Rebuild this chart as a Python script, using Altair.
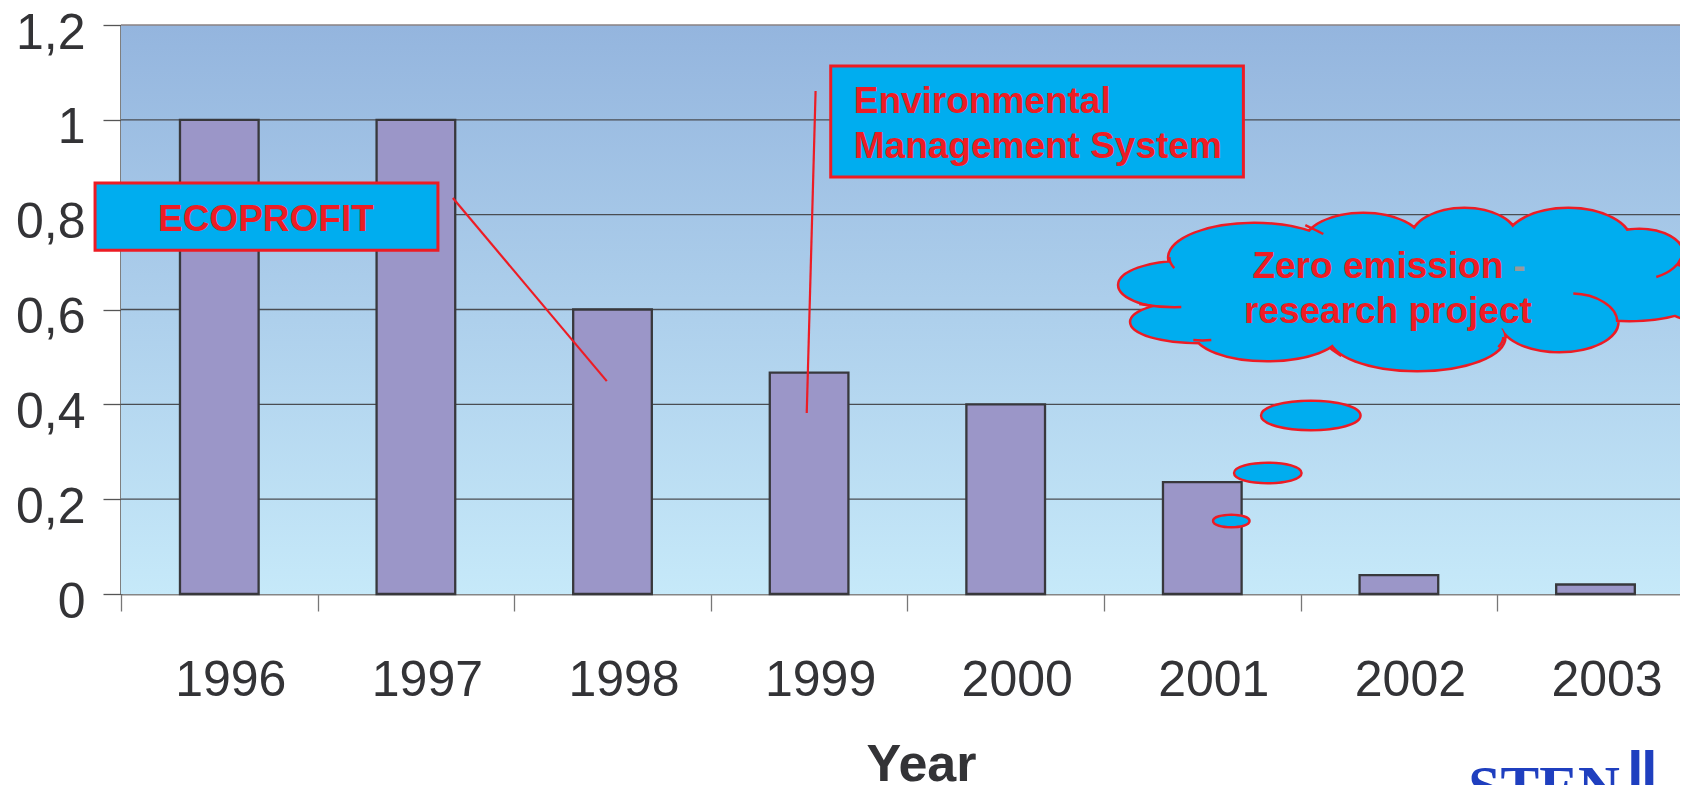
import altair as alt
import pandas as pd

# ---------------- data ----------------
years = [1996, 1997, 1998, 1999, 2000, 2001, 2002, 2003]
values = [1.0, 1.0, 0.6, 0.467, 0.4, 0.236, 0.04, 0.02]
y_tick_values = [0, 0.2, 0.4, 0.6, 0.8, 1.0, 1.2]
x_title = "Year"

eco_label = ["ECOPROFIT"]
ems_labels = ["Environmental", "Management System"]
cloud_labels = ["Zero emission", "research project"]
cloud_dash = ["-"]
logo_label = ["STEN"]

# ---------------- layout / style constants ----------------
PLOT_W, PLOT_H = 1559, 569
X_STEP = 196.6
XMIN = years[0] - 0.5
XMAX = XMIN + PLOT_W / X_STEP
YMAX = 1.2
BAR_HALF = 0.2

RED = "#ED1C24"
CYAN = "#00ADEF"
TXT = "#333336"
FONT = "Liberation Sans"

xs = alt.Scale(domain=[XMIN, XMAX], nice=False, zero=False)
ys = alt.Scale(domain=[0, YMAX], nice=False, zero=False)

# annotation anchors (data coordinates)
eco_box = dict(x=1995.368, x2=1997.112, y=0.867, y2=0.725)
eco_text_pos = dict(x=1996.237, y=0.7655)
eco_line = dict(x=1997.188, y=0.835, x2=1997.971, y2=0.449)
ems_box = dict(x=1999.110, x2=2001.209, y=1.1135, y2=0.8794)
ems_text_x = 1999.227
ems_text_y = [1.0143, 0.9194]
ems_line = dict(x=1999.033, y=1.0607, x2=1998.988, y2=0.3817)
cloud_center = dict(x=2002.002, y=0.6411)
cloud_text_x = [2001.893, 2001.944]
cloud_text_y = [0.6664, 0.5715]
dash_pos = dict(x=2002.582, y=0.6664)
logo_pos = dict(x=2002.353, y=-0.447)
logo_bars = [dict(x=2003.182, x2=2003.223, y=-0.329, y2=-0.5),
             dict(x=2003.253, x2=2003.294, y=-0.329, y2=-0.5)]

# cloud geometry in pixels relative to the cloud anchor: (dx, dy, rx, ry)
cloud_bumps = [(-215, -5, 65, 23), (-200, 32, 68, 20), (-145, -32, 85, 34),
               (-36, -47, 58, 29), (65, -52, 52, 29), (169, -48, 62, 33),
               (240, -36, 43, 24), (322, 5, 65, 28), (160, 32, 58, 29),
               (18, 47, 87, 33), (-132, 43, 72, 27),
               (0, 0, 200, 45), (230, 0, 80, 30)]
bubbles = [(-88.5, 125.5, 48.5, 13.5), (-131.5, 183, 32.5, 9), (-168, 231, 17, 5)]
inner_arcs = [
    [(174, 3.5), (196, 4), (218, 16), (218, 32)],
    [(257, -13), (270, -17), (281, -25), (283, -36)],
    [(-260, 14), (-246, 16.5), (-232, 17.5), (-218, 17)],
    [(-230, -33), (-230, -28), (-228, -25), (-225, -22)],
    [(-94, -65), (-88, -62), (-81, -59), (-76, -56)],
    [(-206, 50), (-200, 50.5), (-194, 50.5), (-188, 50)],
    [(-69, 58), (-66, 61), (-62, 63), (-58, 66)],
    [(104, 47), (104, 50), (102, 54), (99, 57)],
]
UNIT = 100.0          # path unit in pixels -> symbol size = (2*UNIT)^2
SYM_SIZE = (2 * UNIT) ** 2
KAPPA = 0.5523


def f(v):
    return f"{v / UNIT:.4f}"


def ellipse_path(cx, cy, rx, ry):
    k = KAPPA
    p = [f"M{f(cx + rx)},{f(cy)}",
         f"C{f(cx + rx)},{f(cy + k * ry)} {f(cx + k * rx)},{f(cy + ry)} {f(cx)},{f(cy + ry)}",
         f"C{f(cx - k * rx)},{f(cy + ry)} {f(cx - rx)},{f(cy + k * ry)} {f(cx - rx)},{f(cy)}",
         f"C{f(cx - rx)},{f(cy - k * ry)} {f(cx - k * rx)},{f(cy - ry)} {f(cx)},{f(cy - ry)}",
         f"C{f(cx + k * rx)},{f(cy - ry)} {f(cx + rx)},{f(cy - k * ry)} {f(cx + rx)},{f(cy)}Z"]
    return "".join(p)


cloud_path = "".join(ellipse_path(*e) for e in cloud_bumps + bubbles)
arcs_path = "".join(
    f"M{f(a[0][0])},{f(a[0][1])}C{f(a[1][0])},{f(a[1][1])} {f(a[2][0])},{f(a[2][1])} {f(a[3][0])},{f(a[3][1])}"
    for a in inner_arcs)

# ---------------- axes (shared by every layer) ----------------
x_axis = alt.Axis(
    values=[y - 0.5 for y in years],
    labelExpr="format(datum.value + 0.5, 'd')",
    labelOffset=X_STEP / 2 + 11, labelFlush=False, labelOverlap=False,
    tickSize=17, tickColor="#777777", tickWidth=1.3,
    domainColor="#858585", domainWidth=2,
    labelFontSize=50, labelFont=FONT, labelColor=TXT,
    labelPadding=84, labelBaseline="alphabetic",
    grid=False, title=x_title, titleFontSize=52, titleFontWeight="bold",
    titleFont=FONT, titleColor=TXT, titleX=800, titleY=186,
    titleBaseline="alphabetic", titleAlign="center",
)
y_axis = alt.Axis(
    values=y_tick_values,
    labelExpr="replace(format(datum.value, '~g'), '.', ',')",
    tickSize=18, tickColor="#555555", tickWidth=1.3,
    domainColor="#555555", domainWidth=2.5,
    labelFontSize=50, labelFont=FONT, labelColor=TXT,
    labelPadding=18, labelBaseline="alphabetic", labelOffset=23,
    labelOverlap=False, grid=False, title=None,
)


def X(field):
    return alt.X(field, scale=xs, axis=x_axis)


def Y(field):
    return alt.Y(field, scale=ys, axis=y_axis)


# ---------------- layers ----------------
bg_df = pd.DataFrame({"x": [XMIN], "x2": [XMAX], "y": [0.0], "y2": [YMAX]})
bg = alt.Chart(bg_df).mark_rect(
    fill=alt.LinearGradient(
        gradient="linear", x1=0, x2=0, y1=0, y2=1,
        stops=[alt.GradientStop(color="#94B5DE", offset=0),
               alt.GradientStop(color="#C6E9F9", offset=1)]),
    strokeWidth=0,
).encode(x=X("x:Q"), x2="x2:Q", y=Y("y:Q"), y2="y2:Q")

grid_df = pd.DataFrame({"y": [v for v in y_tick_values if 0 < v < YMAX]})
grid = alt.Chart(grid_df).mark_rule(color="#4A4D52", strokeWidth=1.3).encode(y=Y("y:Q"))
top_df = pd.DataFrame({"y": [YMAX]})
top_line = alt.Chart(top_df).mark_rule(color="#8A8282", strokeWidth=1.6).encode(y=Y("y:Q"))

bars_df = pd.DataFrame({"year": years, "value": values})
bars = alt.Chart(bars_df).transform_calculate(
    x=f"datum.year - {BAR_HALF}", x2=f"datum.year + {BAR_HALF}", y2="0"
).mark_rect(fill="#9B96C8", stroke="#38383C", strokeWidth=2.3).encode(
    x=X("x:Q"), x2="x2:Q", y=Y("value:Q"), y2="y2:Q",
)


def one_row(d):
    return pd.DataFrame({k: [v] for k, v in d.items()})


def seg(d):
    return alt.Chart(one_row(d)).mark_rule(color=RED, strokeWidth=2.2).encode(
        x=X("x:Q"), x2="x2:Q", y=Y("y:Q"), y2="y2:Q")


def box(d):
    return alt.Chart(one_row(d)).mark_rect(fill=CYAN, stroke=RED, strokeWidth=3).encode(
        x=X("x:Q"), x2="x2:Q", y=Y("y:Q"), y2="y2:Q")


def texts(xv, yv, labels, align, size, color=RED, font=FONT, weight="bold"):
    df = pd.DataFrame({"x": xv, "y": yv, "t": labels})
    return alt.Chart(df).mark_text(
        font=font, fontWeight=weight, fontSize=size, color=color,
        align=align, baseline="alphabetic").encode(
        x=X("x:Q"), y=Y("y:Q"), text="t:N")


cloud_df = one_row(cloud_center)
cloud_outline = alt.Chart(cloud_df).mark_point(
    shape=cloud_path, size=SYM_SIZE, filled=True, fill=RED, stroke=RED,
    strokeWidth=5, opacity=1).encode(x=X("x:Q"), y=Y("y:Q"))
cloud_fill = alt.Chart(cloud_df).mark_point(
    shape=cloud_path, size=SYM_SIZE, filled=True, fill=CYAN,
    strokeWidth=0, opacity=1).encode(x=X("x:Q"), y=Y("y:Q"))
cloud_arcs = alt.Chart(cloud_df).mark_point(
    shape=arcs_path, size=SYM_SIZE, filled=False, stroke=RED,
    strokeWidth=2.5, opacity=1).encode(x=X("x:Q"), y=Y("y:Q"))

logo_text = texts([logo_pos["x"]], [logo_pos["y"]], logo_label, "left", 58,
                  color="#1F3FBF", font="Liberation Serif")
logo_bar_layers = [
    alt.Chart(one_row(b)).mark_rect(fill="#1F3FBF").encode(
        x=X("x:Q"), x2="x2:Q", y=Y("y:Q"), y2="y2:Q")
    for b in logo_bars]

chart = alt.layer(
    bg, grid, top_line, bars,
    seg(eco_line), seg(ems_line),
    box(eco_box), box(ems_box),
    texts([eco_text_pos["x"]], [eco_text_pos["y"]], eco_label, "center", 37),
    texts([ems_text_x] * 2, ems_text_y, ems_labels, "left", 37),
    cloud_outline, cloud_fill, cloud_arcs,
    texts(cloud_text_x, cloud_text_y, cloud_labels, "center", 37),
    texts([dash_pos["x"]], [dash_pos["y"]], cloud_dash, "left", 37, color="#999999"),
    logo_text, *logo_bar_layers,
).properties(
    width=PLOT_W, height=PLOT_H,
    autosize=alt.AutoSizeParams(type="none"),
    padding={"left": 113, "top": 17, "right": 0, "bottom": 191},
).configure_view(strokeWidth=0).configure(background="white")

chart.save("out.html", embed_options={"renderer": "svg", "actions": False})
